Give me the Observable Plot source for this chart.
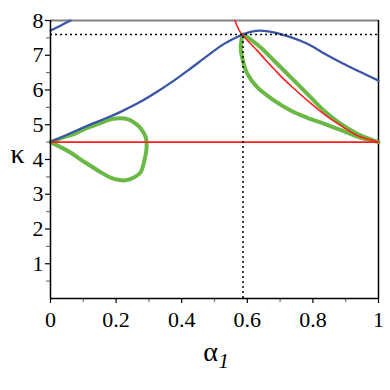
<!DOCTYPE html>
<html><head><meta charset="utf-8">
<script src="https://cdn.jsdelivr.net/npm/d3@7"></script>
<script src="https://cdn.jsdelivr.net/npm/@observablehq/plot@0.6"></script>
<style>
body{margin:0;background:#fff}
</style>
</head><body><div id="chart"></div>
<script>
// axis ticks
const xTicks = [0, 0.2, 0.4, 0.6, 0.8, 1];
const xTickLabels = ["0", "0.2", "0.4", "0.6", "0.8", "1"];
const xMinor = [0.1, 0.3, 0.5, 0.7, 0.9];
const yTicks = [1, 2, 3, 4, 5, 6, 7, 8];
const yMinor = [0.5, 1.5, 2.5, 3.5, 4.5, 5.5, 6.5, 7.5];

// blue curve (main branch)
const blueAlpha = [0, 0.045, 0.091, 0.13, 0.173, 0.22, 0.274, 0.325, 0.376, 0.427, 0.478, 0.528, 0.579, 0.61, 0.64, 0.68, 0.732, 0.783, 0.833, 0.884, 0.935, 1];
const blueKappa = [4.5, 4.69, 4.88, 5.04, 5.2, 5.4, 5.66, 5.95, 6.27, 6.62, 6.98, 7.32, 7.57, 7.67, 7.71, 7.66, 7.52, 7.33, 7.06, 6.80, 6.56, 6.27];
// blue curve (top-left branch)
const blueTopAlpha = [0, 0.03, 0.061];
const blueTopKappa = [7.71, 7.85, 8.0];

// red curves
const redFlatAlpha = [0, 1];
const redFlatKappa = [4.5, 4.5];
const redCurveAlpha = [0.562, 0.579, 0.605, 0.63, 0.655, 0.681, 0.705, 0.732, 0.783, 0.833, 0.884, 0.935, 0.97, 1];
const redCurveKappa = [8.0, 7.66, 7.38, 7.14, 6.87, 6.61, 6.37, 6.13, 5.70, 5.31, 4.98, 4.69, 4.58, 4.5];

// green loop (left)
const greenLeftAlpha = [0, 0.035, 0.071, 0.11, 0.152, 0.19, 0.213, 0.235, 0.254, 0.27, 0.282, 0.29, 0.293, 0.292, 0.287, 0.274, 0.254, 0.229, 0.205, 0.183, 0.15, 0.122, 0.09, 0.061, 0.03, 0];
const greenLeftKappa = [4.5, 4.62, 4.73, 4.9, 5.05, 5.17, 5.19, 5.16, 5.07, 4.95, 4.8, 4.65, 4.47, 4.25, 4.0, 3.62, 3.48, 3.40, 3.42, 3.48, 3.65, 3.82, 4.01, 4.2, 4.36, 4.5];

// green loop (right): upper branch then lower branch
const greenUpperAlpha = [1, 0.97, 0.935, 0.884, 0.833, 0.783, 0.732, 0.681, 0.64, 0.6, 0.587];
const greenUpperKappa = [4.5, 4.6, 4.74, 5.03, 5.41, 5.89, 6.37, 6.85, 7.23, 7.52, 7.6];
const greenLowerAlpha = [0.587, 0.582, 0.58, 0.584, 0.6, 0.63, 0.681, 0.732, 0.783, 0.833, 0.884, 0.935, 1];
const greenLowerKappa = [7.6, 7.42, 7.2, 6.94, 6.47, 6.08, 5.70, 5.41, 5.20, 5.03, 4.85, 4.66, 4.5];

// dotted reference lines
const refAlpha = 0.587;
const refKappa = 7.6;

const zip = (a, k) => a.map((x, i) => ({a: x, k: k[i]}));
const BLUE = "#3b56a6", GREEN = "#6ab845", RED = "#ff1f1f";
const FONT = "Liberation Serif";

const chart = Plot.plot({
  width: 390, height: 390,
  marginLeft: 50, marginRight: 12, marginTop: 20, marginBottom: 92,
  x: {domain: [0, 1]},
  y: {domain: [0, 8]},
  style: {background: "#fff", color: "#000", fontFamily: FONT},
  marks: [
    Plot.axisX({ticks: xTicks, tickFormat: d => xTickLabels[xTicks.indexOf(d)], tickSize: 5, tickPadding: 8, fontSize: 22, fontFamily: FONT, label: null, strokeWidth: 1.2}),
    Plot.axisX({ticks: xMinor, tickFormat: () => "", tickSize: 4, stroke: "#777", label: null, strokeWidth: 1.2}),
    Plot.axisY({ticks: yTicks, tickSize: 5, tickPadding: 2, fontSize: 22, fontFamily: FONT, label: null, strokeWidth: 1.2}),
    Plot.axisY({ticks: yMinor, tickFormat: () => "", tickSize: 4, stroke: "#777", label: null, strokeWidth: 1.2}),
    Plot.ruleY([8], {stroke: "#808080", strokeWidth: 2}),
    Plot.ruleX([1], {stroke: "#000", strokeWidth: 1.5}),
    Plot.line(zip(greenLeftAlpha, greenLeftKappa), {x: "a", y: "k", stroke: GREEN, strokeWidth: 4, curve: "catmull-rom"}),
    Plot.line(zip(greenUpperAlpha.concat(greenLowerAlpha.slice(1)), greenUpperKappa.concat(greenLowerKappa.slice(1))), {x: "a", y: "k", stroke: GREEN, strokeWidth: 4, curve: "catmull-rom"}),
    Plot.line(zip(blueAlpha, blueKappa), {x: "a", y: "k", stroke: BLUE, strokeWidth: 2.3, curve: "catmull-rom"}),
    Plot.line(zip(blueTopAlpha, blueTopKappa), {x: "a", y: "k", stroke: BLUE, strokeWidth: 2.3, curve: "catmull-rom"}),
    Plot.line(zip(redFlatAlpha, redFlatKappa), {x: "a", y: "k", stroke: RED, strokeWidth: 1.6}),
    Plot.line(zip(redCurveAlpha, redCurveKappa), {x: "a", y: "k", stroke: RED, strokeWidth: 1.6, curve: "catmull-rom"}),
    Plot.ruleY([refKappa], {x1: 0, x2: 1, stroke: "#000", strokeWidth: 1.5, strokeDasharray: "2,3"}),
    Plot.ruleX([refAlpha], {y1: 0, y2: refKappa, stroke: "#000", strokeWidth: 1.5, strokeDasharray: "2,3"}),
    Plot.ruleY([0], {stroke: "#000", strokeWidth: 1.5}),
    Plot.ruleX([0], {stroke: "#000", strokeWidth: 1.5}),
    Plot.text(["κ"], {frameAnchor: "left", textAnchor: "middle", lineAnchor: "bottom", dx: -33, dy: 3, fontSize: 28, fontFamily: FONT}),
    Plot.text(["α"], {frameAnchor: "bottom", textAnchor: "middle", lineAnchor: "bottom", dx: -4, dy: 62, fontSize: 28, fontFamily: FONT}),
    Plot.text(["1"], {frameAnchor: "bottom", textAnchor: "start", lineAnchor: "bottom", dx: 4, dy: 69, fontSize: 21, fontStyle: "italic", fontFamily: FONT})
  ]
});
document.getElementById("chart").appendChild(chart);
</script>
</body></html>
